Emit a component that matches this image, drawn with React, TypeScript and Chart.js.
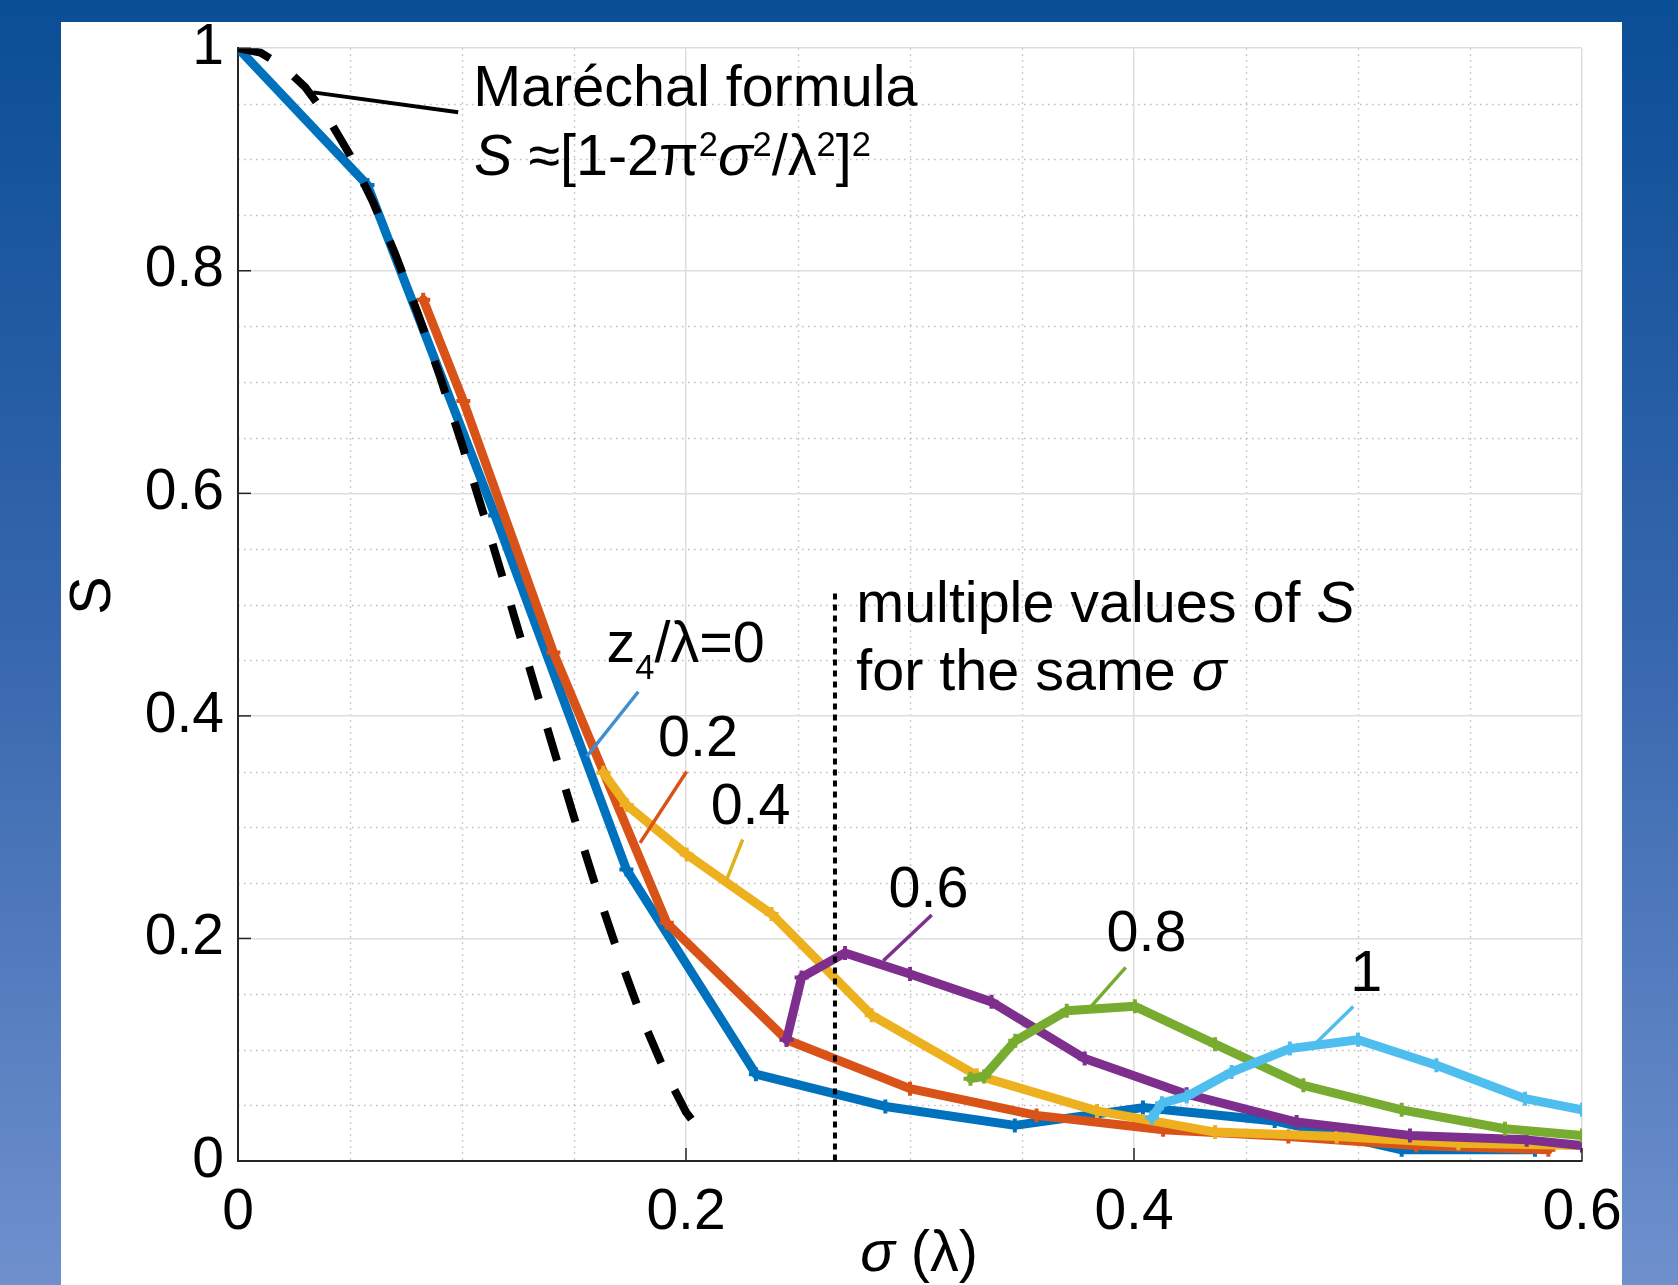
import React, { useEffect, useRef } from 'react';
import { Chart, registerables } from 'chart.js';

Chart.register(...registerables);

const FONT = '"Liberation Sans", Arial, Helvetica, sans-serif';

// ---- data (σ in λ, Strehl ratio S) ----
const sigmaZ0 = [0, 0.0578, 0.1148, 0.1734, 0.2312, 0.289, 0.3468, 0.4040, 0.4628, 0.5195, 0.579];
const strehlZ0 = [1.0, 0.877, 0.580, 0.262, 0.078, 0.049, 0.032, 0.048, 0.036, 0.010, 0.010];

const sigmaZ02 = [0.0827, 0.1006, 0.1408, 0.1914, 0.2449, 0.300, 0.3565, 0.413, 0.4689, 0.526, 0.585];
const strehlZ02 = [0.774, 0.683, 0.457, 0.214, 0.109, 0.065, 0.041, 0.028, 0.022, 0.014, 0.010];

const sigmaZ04 = [0.1631, 0.1735, 0.2003, 0.2382, 0.2829, 0.3298, 0.3835, 0.4362, 0.4905, 0.5448, 0.600];
const strehlZ04 = [0.349, 0.320, 0.2755, 0.222, 0.131, 0.077, 0.045, 0.026, 0.022, 0.016, 0.014];

const sigmaZ06 = [0.2449, 0.2516, 0.2710, 0.300, 0.3364, 0.378, 0.4235, 0.4726, 0.5232, 0.5753, 0.600];
const strehlZ06 = [0.109, 0.165, 0.187, 0.168, 0.143, 0.092, 0.060, 0.035, 0.023, 0.019, 0.014];

const sigmaZ08 = [0.327, 0.333, 0.347, 0.370, 0.4004, 0.4362, 0.4756, 0.5195, 0.5656, 0.600];
const strehlZ08 = [0.074, 0.076, 0.108, 0.135, 0.139, 0.105, 0.068, 0.046, 0.029, 0.023];

const sigmaZ1 = [0.408, 0.4125, 0.4235, 0.4436, 0.4696, 0.500, 0.535, 0.5746, 0.600];
const strehlZ1 = [0.039, 0.052, 0.058, 0.080, 0.101, 0.109, 0.086, 0.056, 0.046];

// Maréchal approximation, values
const sigmaMarechal = [0, 0.01, 0.02, 0.03, 0.04, 0.05, 0.06, 0.07, 0.08, 0.09, 0.10, 0.11, 0.12, 0.13, 0.14, 0.15, 0.16, 0.17, 0.18, 0.19, 0.20, 0.21];
const strehlMarechal = [1.0, 0.996, 0.984, 0.965, 0.938, 0.904, 0.863, 0.816, 0.763, 0.706, 0.644, 0.579, 0.512, 0.444, 0.376, 0.309, 0.245, 0.185, 0.130, 0.083, 0.044, 0.017];

const seriesLabels = ['z4/λ=0', '0.2', '0.4', '0.6', '0.8', '1'];
const seriesColors = ['#0072BD', '#D95319', '#EDB120', '#7E2F8E', '#77AC30', '#4DBEEE'];
const seriesSigma = [sigmaZ0, sigmaZ02, sigmaZ04, sigmaZ06, sigmaZ08, sigmaZ1];
const seriesStrehl = [strehlZ0, strehlZ02, strehlZ04, strehlZ06, strehlZ08, strehlZ1];

const xTickValues = [0, 0.2, 0.4, 0.6];
const xTickLabels = ['0', '0.2', '0.4', '0.6'];
const yTickValues = [0, 0.2, 0.4, 0.6, 0.8, 1];
const yTickLabels = ['0', '0.2', '0.4', '0.6', '0.8', '1'];
const minorStep = 0.05;

// ---- annotations (data units) ----
const leaderFrom = [[0.0983, 0.9424], [0.1787, 0.4217], [0.2003, 0.350], [0.2253, 0.2889], [0.3097, 0.2211], [0.3963, 0.174], [0.4979, 0.1388]];
const leaderTo = [[0.0336, 0.9603], [0.1557, 0.3635], [0.1795, 0.2859], [0.2182, 0.2531], [0.2881, 0.180], [0.3800, 0.137], [0.4817, 0.107]];
const leaderColors = ['#000000', '#3D8FD1', '#D95319', '#DDB21C', '#7E2F8E', '#77AC30', '#4DBEEE'];
const leaderWidths = [4, 3.5, 3.5, 3.5, 3.5, 3.5, 3.5];

type Run = { t: string; italic?: boolean; sup?: boolean; sub?: boolean };
const textRuns: Run[][] = [
  [{ t: 'Maréchal formula' }],
  [{ t: 'S', italic: true }, { t: ' ≈[1-2π' }, { t: '2', sup: true }, { t: 'σ', italic: true }, { t: '2', sup: true }, { t: '/λ' }, { t: '2', sup: true }, { t: ']' }, { t: '2', sup: true }],
  [{ t: 'z' }, { t: '4', sub: true }, { t: '/λ=0' }],
  [{ t: '0.2' }],
  [{ t: '0.4' }],
  [{ t: '0.6' }],
  [{ t: '0.8' }],
  [{ t: '1' }],
  [{ t: 'multiple values of ' }, { t: 'S', italic: true }],
  [{ t: 'for the same ' }, { t: 'σ', italic: true }],
];
const textPos = [[0.1050, 0.9481], [0.1054, 0.8863], [0.1645, 0.4485], [0.1875, 0.3635], [0.2110, 0.3026], [0.2904, 0.2283], [0.3877, 0.1889], [0.4965, 0.1525], [0.2760, 0.4843], [0.2760, 0.4235]];
const markerLineX = 0.2665;
const markerLineY = [0.51, -0.004];
const xTitle: Run[] = [{ t: 'σ', italic: true }, { t: ' (λ)' }];
const yTitle = 'S';

const TEXT_SIZE = 57.5;
const TICK_SIZE = 57;

function runSize(r: Run, size: number) {
  return r.sup || r.sub ? size * 0.6 : size;
}

function runsWidth(ctx: CanvasRenderingContext2D, runs: Run[], size: number) {
  let w = 0;
  for (const r of runs) {
    ctx.font = `${r.italic ? 'italic ' : ''}${runSize(r, size)}px ${FONT}`;
    w += ctx.measureText(r.t).width;
  }
  return w;
}

function drawRuns(ctx: CanvasRenderingContext2D, runs: Run[], x: number, y: number, size: number) {
  let cx = x;
  for (const r of runs) {
    ctx.font = `${r.italic ? 'italic ' : ''}${runSize(r, size)}px ${FONT}`;
    const dy = r.sup ? -size * 0.33 : r.sub ? size * 0.3 : 0;
    ctx.fillText(r.t, cx, y + dy);
    cx += ctx.measureText(r.t).width;
  }
}

const decorPlugin = {
  id: 'decor',
  beforeDraw(chart: any) {
    const { ctx, width, height, chartArea: a } = chart;
    const xs = chart.scales.x;
    const ys = chart.scales.y;
    ctx.save();
    const g = ctx.createLinearGradient(0, 0, 0, height);
    g.addColorStop(0, '#0a4e96');
    g.addColorStop(0.5, '#3767ae');
    g.addColorStop(1, '#6f90cd');
    ctx.fillStyle = g;
    ctx.fillRect(0, 0, width, height);
    ctx.fillStyle = '#ffffff';
    ctx.fillRect(61, 22, 1622 - 61, height - 22);

    // minor dotted grid
    ctx.strokeStyle = '#bdbdbd';
    ctx.lineWidth = 1.5;
    ctx.setLineDash([1.5, 4.5]);
    const xmin = xs.min, xmax = xs.max, ymin = ys.min, ymax = ys.max;
    for (let k = 1; k * minorStep < xmax - 1e-9; k++) {
      if (k % 4 === 0) continue;
      const p = Math.round(xs.getPixelForValue(xmin + k * minorStep)) + 0.5;
      ctx.beginPath();
      ctx.moveTo(p, a.top);
      ctx.lineTo(p, a.bottom);
      ctx.stroke();
    }
    for (let k = 1; k * minorStep < ymax - 1e-9; k++) {
      if (k % 4 === 0) continue;
      const p = Math.round(ys.getPixelForValue(ymin + k * minorStep)) + 0.5;
      ctx.beginPath();
      ctx.moveTo(a.left, p);
      ctx.lineTo(a.right, p);
      ctx.stroke();
    }
    ctx.restore();
  },
  afterDatasetsDraw(chart: any) {
    const { ctx, chartArea: a } = chart;
    const xs = chart.scales.x;
    const ys = chart.scales.y;
    const px = (v: number) => xs.getPixelForValue(v);
    const py = (v: number) => ys.getPixelForValue(v);
    ctx.save();

    // inward tick marks
    ctx.strokeStyle = '#262626';
    ctx.lineWidth = 1.5;
    for (const v of xTickValues) {
      const p = px(v);
      ctx.beginPath();
      ctx.moveTo(p, a.bottom);
      ctx.lineTo(p, a.bottom - 13);
      ctx.stroke();
    }
    for (const v of yTickValues) {
      const p = py(v);
      ctx.beginPath();
      ctx.moveTo(a.left, p);
      ctx.lineTo(a.left + 13, p);
      ctx.stroke();
    }

    // dotted vertical marker
    ctx.strokeStyle = '#000000';
    ctx.lineWidth = 4;
    ctx.setLineDash([6, 5]);
    ctx.beginPath();
    ctx.moveTo(px(markerLineX), py(markerLineY[0]));
    ctx.lineTo(px(markerLineX), py(markerLineY[1]));
    ctx.stroke();
    ctx.setLineDash([]);

    // leader lines
    ctx.lineCap = 'butt';
    leaderFrom.forEach((f, i) => {
      const t = leaderTo[i];
      ctx.strokeStyle = leaderColors[i];
      ctx.lineWidth = leaderWidths[i];
      ctx.beginPath();
      ctx.moveTo(px(f[0]), py(f[1]));
      ctx.lineTo(px(t[0]), py(t[1]));
      ctx.stroke();
    });

    // text annotations
    ctx.fillStyle = '#000000';
    ctx.textBaseline = 'alphabetic';
    ctx.textAlign = 'left';
    textRuns.forEach((runs, i) => {
      drawRuns(ctx, runs, px(textPos[i][0]), py(textPos[i][1]), TEXT_SIZE);
    });

    // axis titles
    const cx = (a.left + a.right) / 2 + 9;
    const w = runsWidth(ctx, xTitle, TEXT_SIZE);
    drawRuns(ctx, xTitle, cx - w / 2, 1271, TEXT_SIZE);

    ctx.translate(94, (a.top + a.bottom) / 2 - 9);
    ctx.rotate(-Math.PI / 2);
    ctx.font = `${TEXT_SIZE}px ${FONT}`;
    ctx.textAlign = 'center';
    ctx.textBaseline = 'middle';
    ctx.fillText(yTitle, 0, 0);
    ctx.restore();
  },
};

export default function App() {
  const canvasRef = useRef<HTMLCanvasElement | null>(null);

  useEffect(() => {
    document.body.style.margin = '0';
    document.body.style.overflow = 'hidden';
    const canvas = canvasRef.current;
    if (!canvas) return;

    const datasets: any[] = seriesSigma.map((sig, i) => ({
      label: seriesLabels[i],
      data: sig.map((s, j) => ({ x: s, y: seriesStrehl[i][j] })),
      borderColor: seriesColors[i],
      backgroundColor: seriesColors[i],
      borderWidth: 9,
      borderJoinStyle: 'round',
      borderCapStyle: 'round',
      pointStyle: 'cross',
      pointRadius: 7,
      pointBorderWidth: 4,
      pointBorderColor: seriesColors[i],
      pointBackgroundColor: seriesColors[i],
      tension: 0,
      fill: false,
      order: 20 - i,
    }));
    datasets.push({
      label: 'Maréchal formula',
      data: sigmaMarechal.map((s, j) => ({ x: s, y: strehlMarechal[j] })),
      borderColor: '#000000',
      borderWidth: 8,
      borderDash: [34, 30],
      borderCapStyle: 'butt',
      pointRadius: 0,
      tension: 0,
      fill: false,
      order: 1,
    });

    const chart = new Chart(canvas, {
      type: 'line',
      data: { datasets },
      plugins: [decorPlugin],
      options: {
        responsive: false,
        maintainAspectRatio: false,
        devicePixelRatio: 1,
        animation: false,
        events: [],
        layout: { padding: { left: 0, top: 43, right: 96, bottom: 0 } },
        plugins: {
          legend: { display: false },
          tooltip: { enabled: false },
          title: { display: false },
        },
        scales: {
          x: {
            type: 'linear',
            min: 0,
            max: 0.6,
            afterBuildTicks: (s: any) => {
              s.ticks = xTickValues.map((v) => ({ value: v }));
            },
            afterFit: (s: any) => {
              s.height = 124;
            },
            ticks: {
              autoSkip: false,
              maxRotation: 0,
              padding: 18,
              color: '#000000',
              font: { family: FONT, size: TICK_SIZE },
              callback: (_v: any, i: number) => xTickLabels[i],
            },
            grid: { color: '#dedede', lineWidth: 1.5, drawTicks: false },
            border: { display: true, color: '#262626', width: 2 },
          },
          y: {
            type: 'linear',
            min: 0,
            max: 1,
            afterBuildTicks: (s: any) => {
              s.ticks = yTickValues.map((v) => ({ value: v }));
            },
            afterFit: (s: any) => {
              s.width = 238;
            },
            ticks: {
              autoSkip: false,
              padding: 14,
              color: '#000000',
              font: { family: FONT, size: TICK_SIZE },
              callback: (_v: any, i: number) => yTickLabels[i],
            },
            grid: { color: '#dedede', lineWidth: 1.5, drawTicks: false },
            border: { display: true, color: '#262626', width: 2 },
          },
        },
      } as any,
    });

    return () => chart.destroy();
  }, []);

  return (
    <div style={{ position: 'absolute', left: 0, top: 0, width: 1678, height: 1285 }}>
      <canvas ref={canvasRef} width={1678} height={1285} style={{ display: 'block' }} />
    </div>
  );
}
